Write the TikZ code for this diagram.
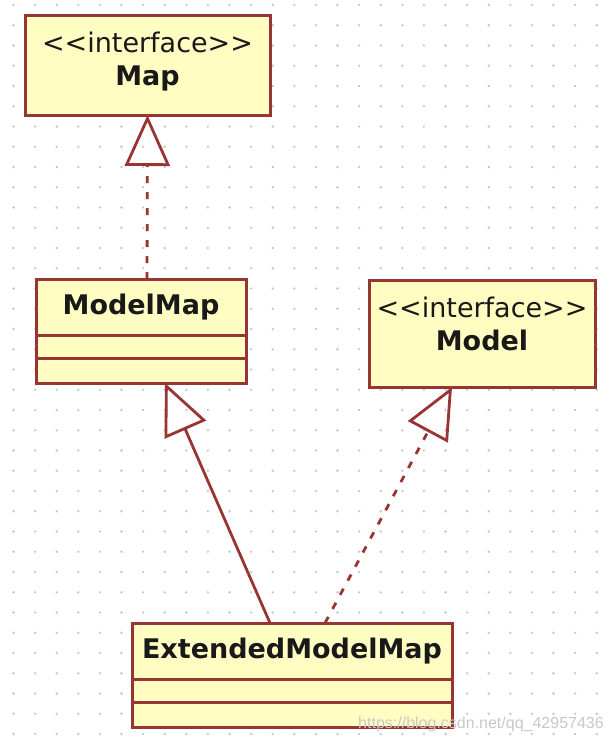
\documentclass[tikz,border=0pt]{standalone}
\usepackage{fontspec}
\setmainfont{DejaVu Sans}
\newfontfamily\wmfont{Liberation Sans}
\usetikzlibrary{positioning, arrows.meta}
\definecolor{umlred}{HTML}{993434}
\definecolor{umlyellow}{HTML}{FFFDC2}
\definecolor{gridgray}{HTML}{C6C6C6}
\definecolor{wmgray}{HTML}{C8C8C8}
\tikzstyle{umlbox} = [rectangle, draw=umlred, fill=umlyellow, line width=3pt,
    outer sep=0pt, font=\fontsize{27pt}{33pt}\selectfont, text=black!90]
\tikzstyle{interface} = [umlbox, align=center, inner xsep=2pt]
\tikzstyle{classname} = [umlbox, minimum height=56pt]
\tikzstyle{compartment} = [umlbox, inner sep=0pt]
\tikzstyle{inherit} = [draw=umlred, line width=2.8pt,
    -{Triangle[open, length=51pt, width=45pt]}]
\tikzstyle{realize} = [inherit, dash pattern=on 7pt off 9pt]

\begin{document}
\begin{tikzpicture}[x=1pt, y=-1pt]
            \useasboundingbox (0,0) rectangle (612,744);
            % dotted background
            \foreach \i in {0,...,27}
                \foreach \j in {0,...,36}
                    \fill[gridgray] (13.5+21.6*\i, 5+20.25*\j) circle (1.3pt);

            \node[interface, minimum width=245pt, minimum height=100pt, text depth=13pt] (map) at (147.5,65) {<{}<interface>{}>\\\textbf{Map}};
            \node[interface, minimum width=226pt, minimum height=107pt, text depth=20pt] (model) at (482,333.5) {<{}<interface>{}>\\\textbf{Model}};

            \node[classname, minimum width=210pt] (modelmap) at (141,307) {\textbf{ModelMap}};
            \node[compartment, minimum width=210pt, minimum height=23pt, below=0pt of modelmap] (mmattr) {};
            \node[compartment, minimum width=210pt, minimum height=25pt, below=0pt of mmattr] (mmops) {};

            \node[classname, minimum width=320pt] (extended) at (292,651) {\textbf{ExtendedModelMap}};
            \node[compartment, minimum width=320pt, minimum height=23pt, below=0pt of extended] (exattr) {};
            \node[compartment, minimum width=320pt, minimum height=25pt, below=0pt of exattr] (exops) {};

            \path [realize] ([xshift=6pt]modelmap.north) -- (map.south);
            \path [inherit] ([xshift=-22pt]extended.north) -- ([xshift=24pt]mmops.south);
            \path [realize] ([xshift=33pt]extended.north) -- ([xshift=-30pt]model.south);

            \node[font=\wmfont\fontsize{16pt}{16pt}\selectfont, text=wmgray] (watermark) at (481,724) {https://blog.csdn.net/qq\_42957436};
      \end{tikzpicture}
\end{document}
